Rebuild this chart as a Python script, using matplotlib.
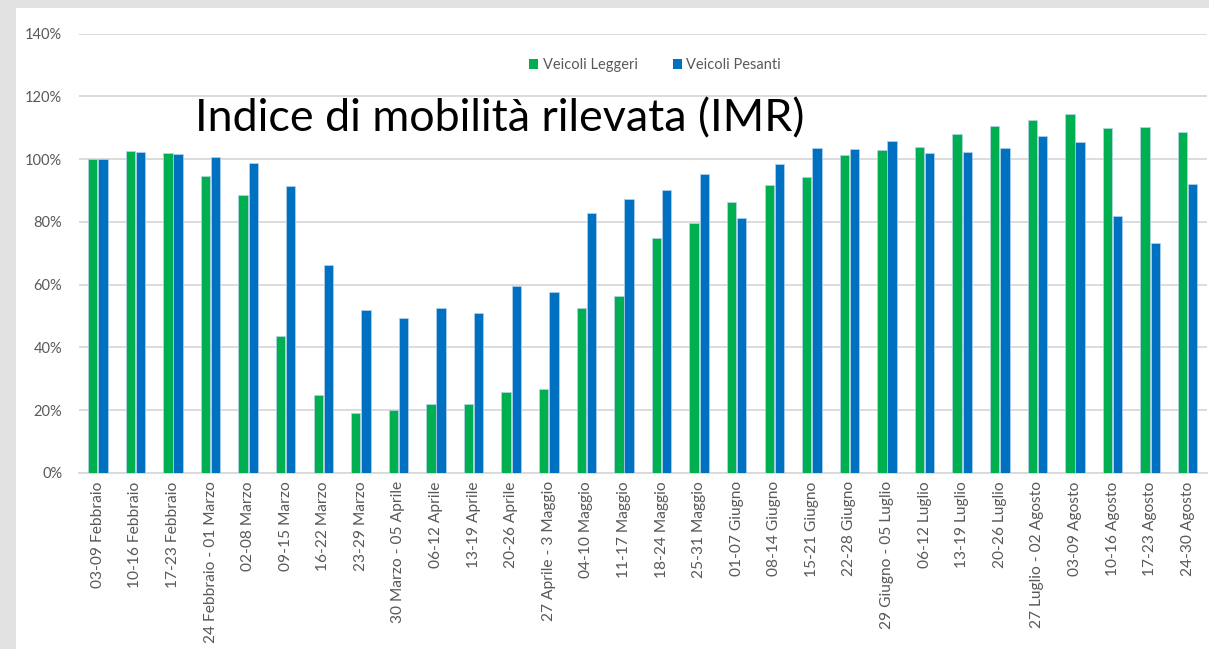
import matplotlib
matplotlib.use("Agg")
import matplotlib.pyplot as plt
import numpy as np
from matplotlib.patches import Rectangle, Patch
from matplotlib.ticker import FuncFormatter

categories = [
    "03-09 Febbraio", "10-16 Febbraio", "17-23 Febbraio", "24 Febbraio - 01 Marzo",
    "02-08 Marzo", "09-15 Marzo", "16-22 Marzo", "23-29 Marzo", "30 Marzo - 05 Aprile",
    "06-12 Aprile", "13-19 Aprile", "20-26 Aprile", "27 Aprile - 3 Maggio",
    "04-10 Maggio", "11-17 Maggio", "18-24 Maggio", "25-31 Maggio", "01-07 Giugno",
    "08-14 Giugno", "15-21 Giugno", "22-28 Giugno", "29 Giugno - 05 Luglio",
    "06-12 Luglio", "13-19 Luglio", "20-26 Luglio", "27 Luglio - 02 Agosto",
    "03-09 Agosto", "10-16 Agosto", "17-23 Agosto", "24-30 Agosto",
]
leggeri = [100, 102.5, 102, 94.7, 88.7, 43.6, 24.8, 19.2, 20.1, 22.0, 22.0, 25.7, 26.8,
           52.6, 56.4, 74.9, 79.6, 86.2, 91.7, 94.4, 101.3, 102.8, 103.8, 108.1, 110.4,
           112.3, 114.4, 110.0, 110.3, 108.6]
pesanti = [100, 102.1, 101.6, 100.6, 98.6, 91.5, 66.3, 51.9, 49.4, 52.7, 51.0, 59.7, 57.8,
           82.9, 87.3, 90.3, 95.4, 81.1, 98.3, 103.5, 103.2, 105.6, 102.0, 102.4, 103.6,
           107.3, 105.4, 82.0, 73.4, 92.0]
series_names = ["Veicoli Leggeri", "Veicoli Pesanti"]
yticks = [0, 20, 40, 60, 80, 100, 120, 140]
title = "Indice di mobilità rilevata (IMR)"

GREEN = "#00B050"
BLUE = "#0070C0"
TXT = "#595959"
FONT = ["Lato", "DejaVu Sans"]

W, H = 1209, 649
fig = plt.figure(figsize=(W / 100, H / 100), dpi=100)
fig.patch.set_facecolor("#e2e2e2")
fig.add_artist(Rectangle((16 / W, 0), 1 - 16 / W, 1 - 8 / H, transform=fig.transFigure,
                         facecolor="white", edgecolor="none", zorder=0))

ax = fig.add_axes([79 / W, 1 - 473 / H, (1206.5 - 79) / W, (473 - 33.5) / H])
ax.set_facecolor("none")
x = np.arange(len(categories))
bw = 0.25
ax.bar(x - 0.135, leggeri, width=bw, color=GREEN, edgecolor="#b5d3ee", linewidth=0.5, zorder=3)
ax.bar(x + 0.135, pesanti, width=bw, color=BLUE, edgecolor="#b5d3ee", linewidth=0.5, zorder=3)

ax.set_xlim(-0.5, len(categories) - 0.5)
ax.set_ylim(0, 140)
ax.set_yticks(yticks)
ax.yaxis.set_major_formatter(FuncFormatter(lambda v, p: f"{int(v)}%"))
ax.grid(axis="y", color="#d9d9d9", linewidth=1.3, zorder=0)
for s in ["top", "right", "left"]:
    ax.spines[s].set_visible(False)
ax.spines["bottom"].set_color("#d9d9d9")
ax.spines["bottom"].set_linewidth(1.3)
ax.spines["bottom"].set_zorder(1)
ax.tick_params(axis="both", length=0)
ax.tick_params(axis="y", pad=12, labelsize=10.5, labelcolor=TXT)
ax.set_xticks(x)
ax.set_xticklabels(categories, rotation=90, fontsize=11.2, color=TXT, family=FONT)
ax.tick_params(axis="x", pad=6)
for lab in ax.get_yticklabels():
    lab.set_family(FONT)

handles = [Patch(facecolor=GREEN, edgecolor="none"), Patch(facecolor=BLUE, edgecolor="none")]
fig.legend(handles, series_names, loc="center", bbox_to_anchor=(655 / W, 1 - 65 / H),
           ncol=2, frameon=False, handlelength=0.65, handleheight=0.65, handletextpad=0.3,
           columnspacing=2.4, prop={"family": FONT, "size": 10.5}, labelcolor=TXT)

fig.text(195 / W, 1 - 131 / H, title, fontsize=32.3, family=FONT, color="black",
         ha="left", va="baseline")

fig.savefig("out.png", dpi=100, facecolor=fig.get_facecolor())
